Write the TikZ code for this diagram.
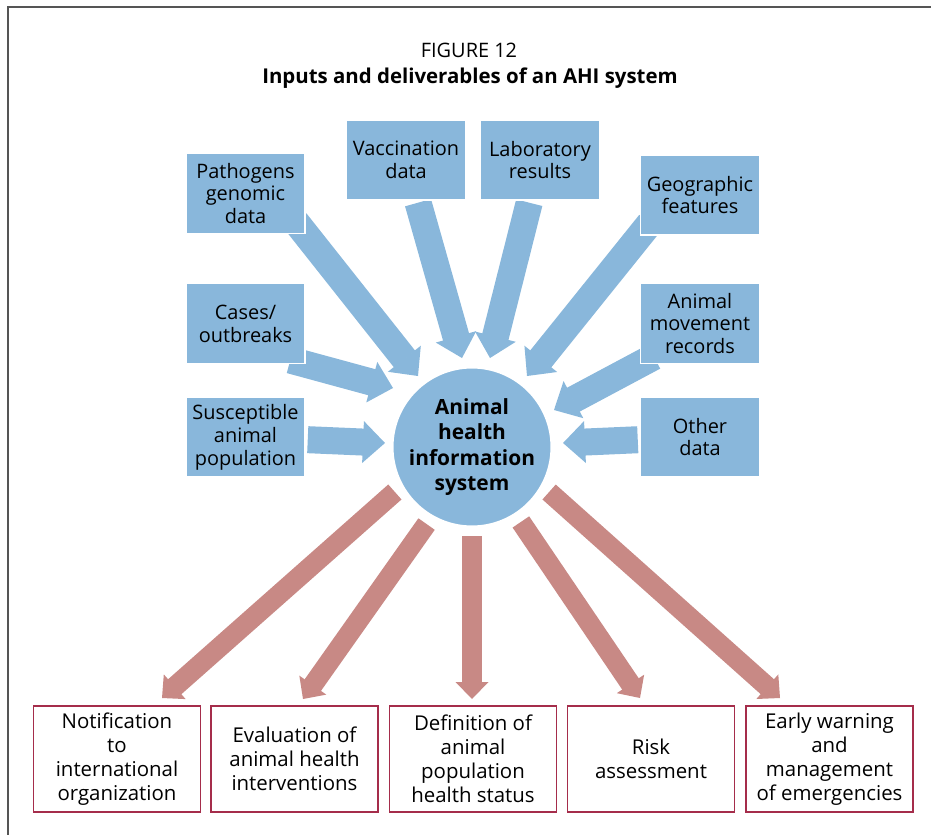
\documentclass[tikz,border=0pt]{standalone}
\usepackage{fontspec}
\setmainfont{Open Sans}
\usetikzlibrary{calc,backgrounds}
\definecolor{ablue}{RGB}{137,183,219}
\definecolor{ared}{RGB}{200,137,133}
\definecolor{aframe}{RGB}{85,85,85}
\definecolor{amaroon}{RGB}{165,45,75}
\newcommand{\fatarrow}[7][]{%
  \draw[#7, line width=#4, shorten >=#6-0.6bp, #1] (#2) -- (#3);
  \coordinate (hb) at ($(#3)!#6!(#2)$);
  \fill[#7] (#3) -- ($(hb)!#5!90:(#3)$) -- ($(hb)!#5!-90:(#3)$) -- cycle;}
\tikzset{
  inbox/.style={fill=ablue, draw=white, line width=1.5bp, inner sep=0pt,
    minimum width=119bp, minimum height=80bp, align=center,
    font=\fontsize{20}{23}\selectfont},
  outbox/.style={fill=white, draw=amaroon, line width=1.2bp, inner sep=0pt,
    minimum width=167bp, minimum height=106bp, align=center,
    font=\fontsize{20.5}{24}\selectfont},
  hub/.style={circle, fill=ablue, draw=white, line width=2bp, inner sep=0pt,
    minimum size=156bp, align=center,
    font=\bfseries\fontsize{21}{25.5}\selectfont},
}
\begin{document}
\begin{tikzpicture}[x=1bp,y=-1bp]
\useasboundingbox (0,0) rectangle (931,835);
% title
\node (fig) at (469,50) {\fontsize{20}{23}\selectfont FIGURE 12};
\node (ttl) at (470,78) {\bfseries\fontsize{20.5}{24}\selectfont Inputs and deliverables of an AHI system};
% input boxes
\node[inbox] (pg) at (245.5,193.5) {Pathogens\\genomic\\data};
\node[inbox] (vac) at (406,160) {Vaccination\\data};
\node[inbox] (lab) at (540,160) {Laboratory\\results};
\node[inbox] (geo) at (700,195) {Geographic\\features};
\node[inbox] (cas) at (245.5,323.5) {Cases/\\outbreaks};
\node[inbox] (mov) at (700,323.5) {Animal\\movement\\records};
\node[inbox] (sus) at (245.5,437) {Susceptible\\animal\\population};
\node[inbox] (oth) at (700,437) {Other\\data};
% hub
\node[hub] (circ) at (472,447) {Animal\\health\\information\\system};
% output boxes
\node[outbox] (o1) at (117,759) {Notification\\to\\international\\organization};
\node[outbox] (o2) at (294.5,759) {Evaluation of\\animal health\\interventions};
\node[outbox] (o3) at (473,759) {Definition of\\animal\\population\\health status};
\node[outbox] (o4) at (651,759) {Risk\\assessment};
\node[outbox] (o5) at (829.5,759) {Early warning\\and\\management\\of emergencies};
% arrow ends
\coordinate (t1) at (418,376);
\coordinate (t2) at (462,358);
\coordinate (t3) at (490,358);
\coordinate (t4) at (527,376);
\coordinate (t5) at (393,388);
\coordinate (t6) at (554,410);
\coordinate (t7) at (385,443);
\coordinate (t8) at (563,443);
\coordinate (r1) at (162,698);
\coordinate (r2) at (303,699);
\coordinate (r3) at (472,699);
\coordinate (r4) at (640,698);
\coordinate (r5) at (780,698);
\begin{pgfonlayer}{background}
\draw[aframe, line width=2bp] (8,835) -- (8,6.5) -- (931,6.5);
\fatarrow[shorten <=-16bp]{pg.south east}{t1}{27bp}{21bp}{22bp}{ablue}
\fatarrow[shorten <=2bp]{vac}{t2}{27bp}{21bp}{22bp}{ablue}
\fatarrow[shorten <=2bp]{lab}{t3}{27bp}{21bp}{22bp}{ablue}
\fatarrow[shorten <=-16bp]{geo.south west}{t4}{27bp}{21bp}{22bp}{ablue}
\fatarrow[shorten <=-16bp]{cas.south east}{t5}{27bp}{21bp}{22bp}{ablue}
\fatarrow[shorten <=-16bp]{mov.south west}{t6}{27bp}{21bp}{22bp}{ablue}
\fatarrow[shorten <=2bp]{sus}{t7}{27bp}{21bp}{22bp}{ablue}
\fatarrow[shorten <=2bp]{oth}{t8}{27bp}{21bp}{22bp}{ablue}
\fatarrow[shorten <=9bp]{circ.209}{r1}{20bp}{16.5bp}{17bp}{ared}
\fatarrow[shorten <=9bp]{circ.240}{r2}{20bp}{16.5bp}{17bp}{ared}
\fatarrow[shorten <=9bp]{circ.270}{r3}{20bp}{16.5bp}{17bp}{ared}
\fatarrow[shorten <=9bp]{circ.303}{r4}{20bp}{16.5bp}{17bp}{ared}
\fatarrow[shorten <=9bp]{circ.331}{r5}{20bp}{16.5bp}{17bp}{ared}
\end{pgfonlayer}
\end{tikzpicture}
\end{document}
